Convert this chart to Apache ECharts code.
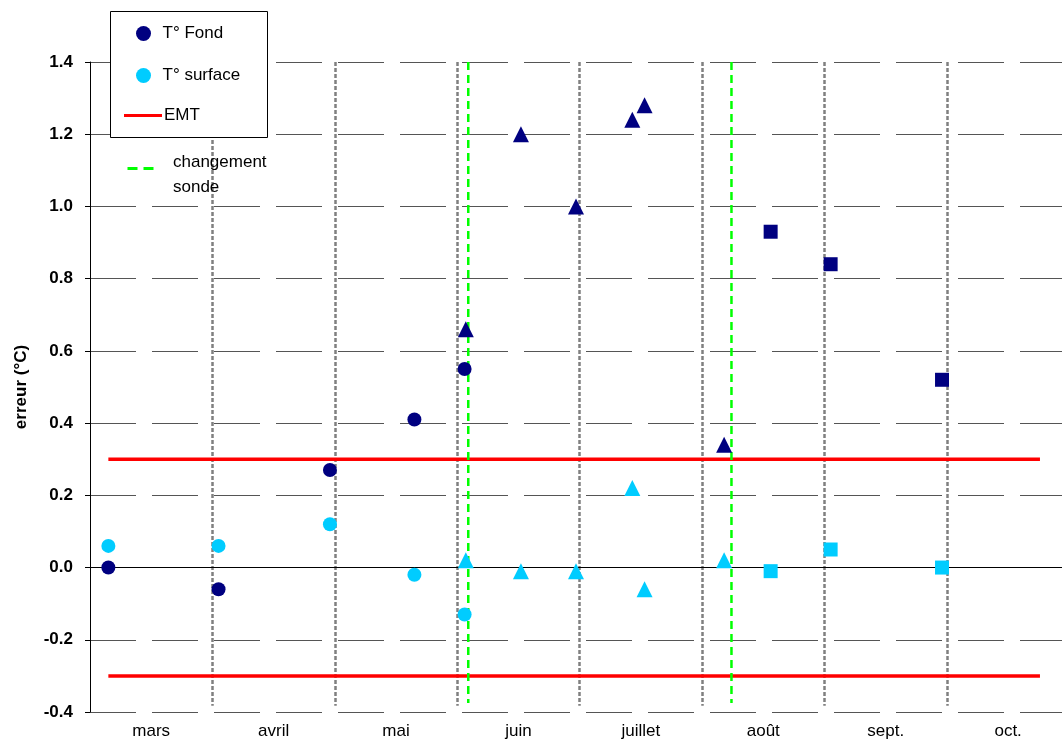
<!DOCTYPE html>
<html><head><meta charset="utf-8">
<script src="https://cdn.jsdelivr.net/npm/echarts@6/dist/echarts.min.js"></script>
<style>html,body{margin:0;padding:0;background:#fff}#c{width:1062px;height:740px}</style>
</head><body><div id="c"></div>
<script>
// x in "month units": 0 = start of mars, 1 = start of avril, ...
const months = ['mars','avril','mai','juin','juillet','août','sept.','oct.'];
const monthBounds = [1,2,3,4,5,6,7];
const yTicks = [-0.4,-0.2,0,0.2,0.4,0.6,0.8,1.0,1.2,1.4];

const fondCircles = [[0.15,0.00],[1.05,-0.06],[1.96,0.27],[2.65,0.41],[3.06,0.55]];
const surfCircles = [[0.15,0.06],[1.05,0.06],[1.96,0.12],[2.65,-0.02],[3.06,-0.13]];
const fondTriangles = [[3.07,0.66],[3.52,1.20],[3.97,1.00],[4.43,1.24],[4.53,1.28],[5.18,0.34]];
const surfTriangles = [[3.07,0.02],[3.52,-0.01],[3.97,-0.01],[4.43,0.22],[4.53,-0.06],[5.18,0.02]];
const fondSquares = [[5.56,0.93],[6.05,0.84],[6.96,0.52]];
const surfSquares = [[5.56,-0.01],[6.05,0.05],[6.96,0.00]];
const emtLimit = 0.3;
const emtRange = [0.15, 7.76];
const probeChanges = [3.09, 5.24];

const NAVY = '#000080', CYAN = '#00CCFF', FONT = 'Liberation Sans, Arial, sans-serif';

const chart = echarts.init(document.getElementById('c'), null, {renderer:'canvas'});
const series = [];
// month dividers + zero line
series.push({
  type:'line', data:[], silent:true,
  markLine:{silent:true, symbol:['none','none'], label:{show:false},
    data: monthBounds.map(b => [
      {coord:[b,1.4], lineStyle:{color:'#808080', width:2.5, type:[4,2]}},
      {coord:[b,-0.383]}
    ]).concat([[{coord:[0,0], lineStyle:{color:'#000', width:1, type:'solid'}},{coord:[7.94,0]}]]),
    z:1
  }, z:1
});
// EMT
series.push({name:'EMT', type:'line', showSymbol:false, symbol:'none', silent:true,
  data: emtRange.map(x => [x, emtLimit]), lineStyle:{color:'#FF0000', width:3.5}, itemStyle:{color:'#FF0000'}, z:3});
series.push({name:'EMT', type:'line', showSymbol:false, symbol:'none', silent:true,
  data: emtRange.map(x => [x, -emtLimit]), lineStyle:{color:'#FF0000', width:3.5}, itemStyle:{color:'#FF0000'}, z:3});
// probe change lines
probeChanges.forEach(x => series.push({name:'changement sonde', type:'line', symbol:'none', silent:true,
  data:[[x,1.4],[x,-0.375]], lineStyle:{color:'#00FF00', width:2.5, type:[8,5]}, z:4}));
// scatter
series.push({name:'T° Fond', type:'scatter', symbol:'circle', symbolSize:14, data:fondCircles, itemStyle:{color:NAVY, opacity:1}, z:5});
series.push({name:'T° surface', type:'scatter', symbol:'circle', symbolSize:14, data:surfCircles, itemStyle:{color:CYAN, opacity:1}, z:5});
series.push({name:'fondTri', type:'scatter', symbol:'triangle', symbolSize:16, data:fondTriangles, itemStyle:{color:NAVY, opacity:1}, z:5});
series.push({name:'surfTri', type:'scatter', symbol:'triangle', symbolSize:16, data:surfTriangles, itemStyle:{color:CYAN, opacity:1}, z:5});
series.push({name:'fondSq', type:'scatter', symbol:'rect', symbolSize:14, data:fondSquares, itemStyle:{color:NAVY, opacity:1}, z:5});
series.push({name:'surfSq', type:'scatter', symbol:'rect', symbolSize:14, data:surfSquares, itemStyle:{color:CYAN, opacity:1}, z:5});

const legendText = {color:'#000', fontSize:17, fontFamily:FONT};
chart.setOption({
  animation:false,
  backgroundColor:'#fff',
  textStyle:{fontFamily:FONT},
  grid:{left:90, top:62, right:0, bottom:28, containLabel:false, outerBoundsMode:'none'},
  xAxis:{type:'value', min:0, max:7.94, interval:0.5,
    axisLine:{show:true, lineStyle:{color:'#000', width:1}},
    axisTick:{show:false}, splitLine:{show:false},
    axisLabel:{color:'#000', fontSize:17, margin:11, fontFamily:FONT, showMaxLabel:false,
      formatter: v => (Math.abs(v % 1 - 0.5) < 1e-6) ? months[Math.floor(v)] : ''}
  },
  yAxis:{type:'value', min:-0.4, max:1.4, interval:0.2,
    name:'erreur (°C)', nameLocation:'middle', nameGap:60, nameRotate:90,
    nameTextStyle:{color:'#000', fontSize:17, fontWeight:'bold', fontFamily:FONT},
    axisLine:{show:true, lineStyle:{color:'#000', width:1}},
    axisTick:{show:true, length:5, lineStyle:{color:'#000'}},
    axisLabel:{color:'#000', fontSize:17, fontWeight:'bold', margin:17, fontFamily:FONT,
      formatter: v => { const t = yTicks.find(k => Math.abs(k - v) < 1e-6); return (t === undefined ? v : t).toFixed(1); }},
    splitLine:{show:true, lineStyle:{color:'#555', width:1, type:[46,16]}}
  },
  legend:[{
    data:[{name:'T° Fond', icon:'circle'},{name:'T° surface', icon:'circle'}],
    orient:'vertical', left:136, top:25, padding:0, z:20,
    itemGap:25, itemWidth:28, itemHeight:15, itemStyle:{borderWidth:0},
    textStyle:legendText, selectedMode:false
  },{
    data:[{name:'EMT', icon:'rect'}],
    orient:'vertical', left:124, top:107, padding:0, z:20,
    itemWidth:38, itemHeight:3, itemStyle:{borderWidth:0},
    textStyle:Object.assign({}, legendText, {padding:[0,0,0,-3]}), selectedMode:false
  }],
  graphic:[
    {type:'rect', left:110, top:11, shape:{width:157, height:126}, style:{fill:'#fff', stroke:'#000', lineWidth:1}, z:11},
    {type:'line', left:125, top:166, shape:{x1:0,y1:0,x2:30,y2:0}, style:{stroke:'#00FF00', lineWidth:3, lineDash:[10,6]}, z:12},
    {type:'text', left:173, top:150, style:{text:'changement\nsonde', fill:'#000', font:'17px '+FONT, lineHeight:25}, z:12}
  ],
  series: series
});
</script></body></html>
